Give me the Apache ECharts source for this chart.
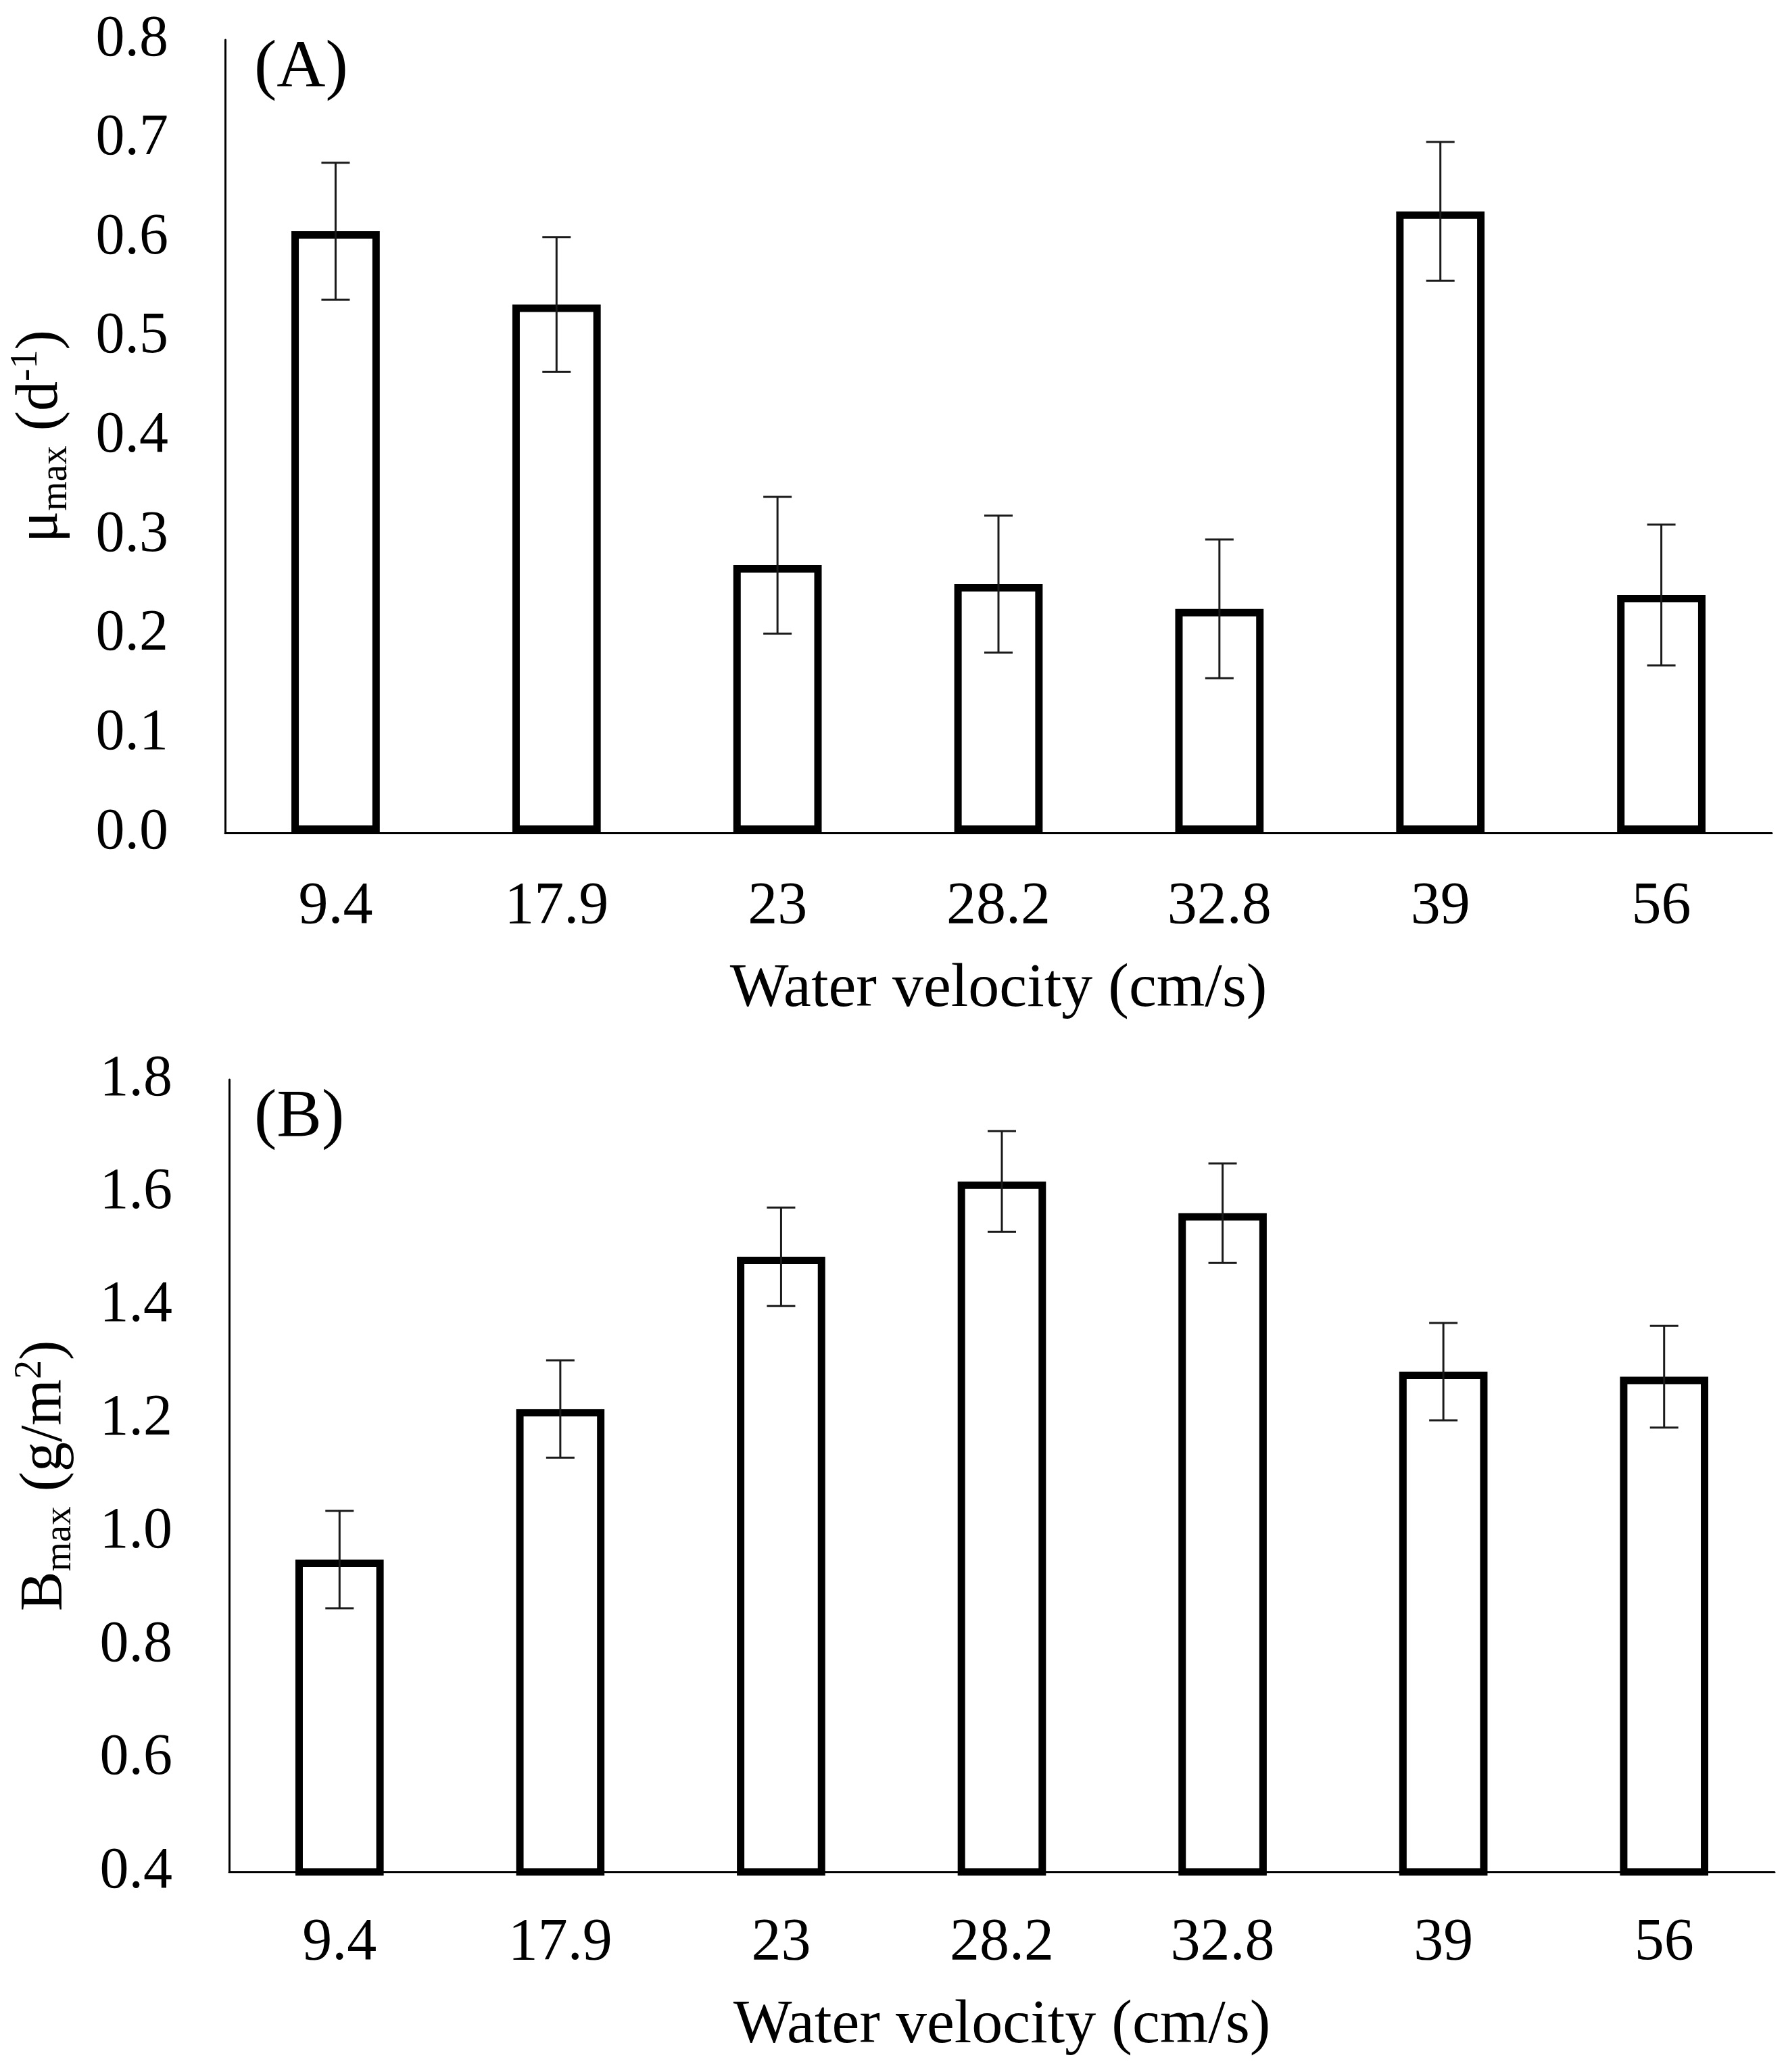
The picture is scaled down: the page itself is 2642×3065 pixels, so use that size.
<!DOCTYPE html>
<html>
<head>
<meta charset="utf-8">
<script src="https://cdn.jsdelivr.net/npm/echarts@6/dist/echarts.min.js"></script>
<style>
  html, body { margin: 0; padding: 0; background: #fff; }
  #chart { width: 2642px; height: 3065px; }
</style>
</head>
<body>
<div id="chart"></div>
<script>
const categories = ['9.4', '17.9', '23', '28.2', '32.8', '39', '56']

// panel A: maximum growth rate (d-1)
const muValues = [0.607, 0.533, 0.270, 0.251, 0.226, 0.627, 0.240]
const muErrors = [0.069, 0.068, 0.069, 0.069, 0.070, 0.070, 0.071]

// panel B: maximum biomass (g/m2)
const bValues = [0.952, 1.218, 1.487, 1.620, 1.564, 1.284, 1.275]
const bErrors = [0.086, 0.086, 0.087, 0.089, 0.088, 0.086, 0.090]

const FONT = '"Liberation Serif", "DejaVu Serif", serif'
const INK = '#000'

const chart = echarts.init(document.getElementById('chart'))

const nameRich = {
  t: { fontFamily: FONT, fontSize: 88, color: INK },
  sub: { fontFamily: FONT, fontSize: 56, color: INK, padding: [44, 0, 0, 0] },
  sup: { fontFamily: FONT, fontSize: 56, color: INK, padding: [0, 0, 44, 0] }
}

const xAxisFor = (gridIndex, labelMargin, nameGap) => ({
  type: 'category',
  gridIndex,
  data: categories,
  axisLine: { lineStyle: { color: INK, width: 3 } },
  axisTick: { show: false },
  axisLabel: { fontFamily: FONT, fontSize: 88, color: INK, margin: labelMargin },
  name: 'Water velocity (cm/s)',
  nameLocation: 'middle',
  nameGap,
  nameTextStyle: { fontFamily: FONT, fontSize: 92, color: INK }
})

const yAxisFor = (gridIndex, min, max, interval, digits, name) => ({
  type: 'value',
  gridIndex,
  min,
  max,
  interval,
  axisLine: { show: true, lineStyle: { color: INK, width: 3 } },
  axisTick: { show: false },
  splitLine: { show: false },
  axisLabel: {
    fontFamily: FONT, fontSize: 86, color: INK, margin: 84,
    formatter: (v) => v.toFixed(digits)
  },
  name,
  nameLocation: 'middle',
  nameRotate: 90,
  nameGap: 222,
  nameTextStyle: { rich: nameRich }
})

const barSeries = (index, values, clip) => ({
  type: 'bar',
  xAxisIndex: index,
  yAxisIndex: index,
  data: values,
  barWidth: '40%',
  clip,
  itemStyle: { color: '#fff', borderColor: INK, borderWidth: 11 },
  silent: true,
  z: 2
})

const errorSeries = (index, values, errors) => ({
  type: 'custom',
  xAxisIndex: index,
  yAxisIndex: index,
  data: values.map((v, i) => [i, v - errors[i], v + errors[i]]),
  renderItem: (params, api) => {
    const lo = api.coord([api.value(0), api.value(1)])
    const hi = api.coord([api.value(0), api.value(2)])
    const half = 21
    const style = { stroke: '#1a1a1a', lineWidth: 3 }
    return {
      type: 'group',
      children: [
        { type: 'line', shape: { x1: hi[0], y1: hi[1], x2: lo[0], y2: lo[1] }, style },
        { type: 'line', shape: { x1: hi[0] - half, y1: hi[1], x2: hi[0] + half, y2: hi[1] }, style },
        { type: 'line', shape: { x1: lo[0] - half, y1: lo[1], x2: lo[0] + half, y2: lo[1] }, style }
      ]
    }
  },
  silent: true,
  z: 3
})

chart.setOption({
  backgroundColor: '#fff',
  animation: false,
  grid: [
    { left: 333, right: 21, top: 59, height: 1173 },
    { left: 339, right: 17, top: 1597, height: 1172 }
  ],
  xAxis: [xAxisFor(0, 66, 186), xAxisFor(1, 62, 182)],
  yAxis: [
    yAxisFor(0, 0, 0.8, 0.1, 1, '{t|μ}{sub|max}{t| (d}{sup|-1}{t|)}'),
    yAxisFor(1, 0.4, 1.8, 0.2, 1, '{t|B}{sub|max}{t| (g/m}{sup|2}{t|)}')
  ],
  graphic: [
    { type: 'text', left: 376, top: 52, style: { text: '(A)', font: '100px ' + FONT, fill: INK } },
    { type: 'text', left: 376, top: 1604, style: { text: '(B)', font: '100px ' + FONT, fill: INK } }
  ],
  series: [
    barSeries(0, muValues, false),
    errorSeries(0, muValues, muErrors),
    barSeries(1, bValues, true),
    errorSeries(1, bValues, bErrors)
  ]
})

window.addEventListener('resize', () => chart.resize())
</script>
</body>
</html>
